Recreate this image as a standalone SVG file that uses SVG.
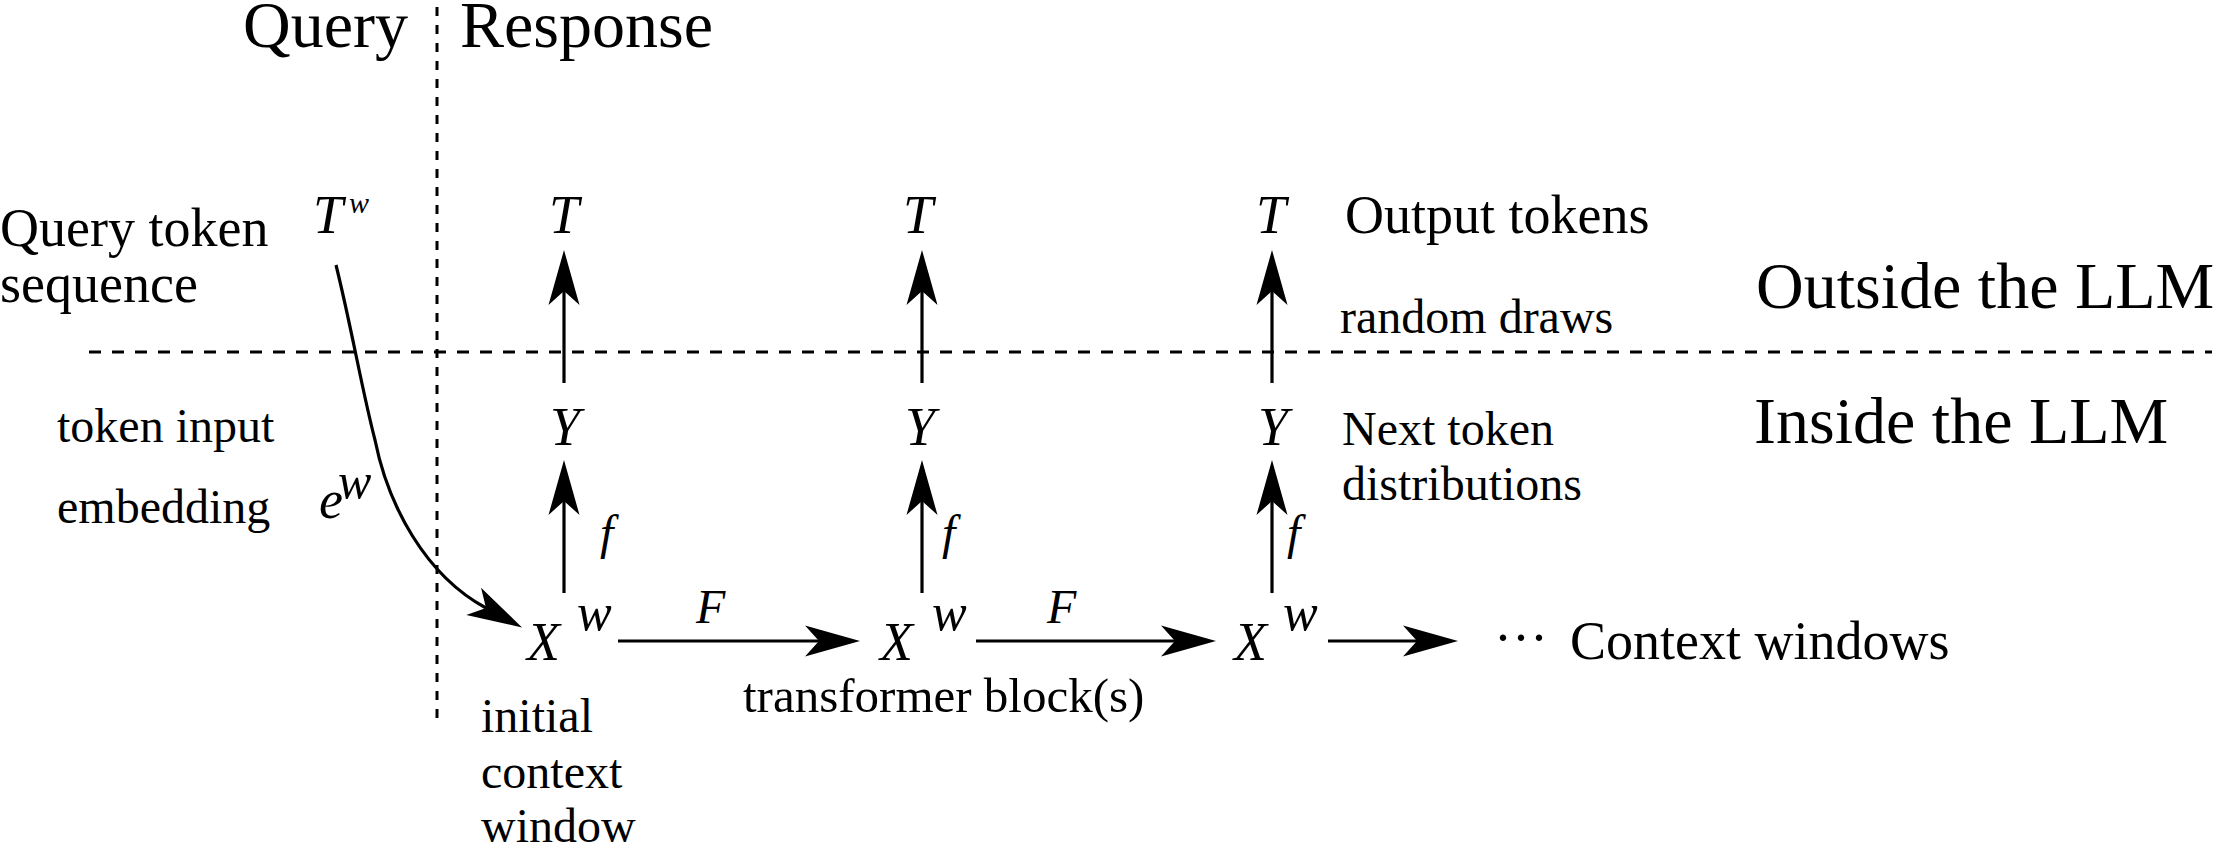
<svg xmlns="http://www.w3.org/2000/svg" width="2220" height="846" viewBox="0 0 2220 846">
<style>
text{font-family:"Liberation Serif","Times New Roman",serif;fill:#000}
.big{font-size:66px}
.huge{font-size:66px}
.lbl{font-size:54px}
.sm{font-size:48px}
.m{font-style:italic;font-size:54px}
.ms{font-style:italic;font-size:48px}
.con{stroke:#000;stroke-width:3.2;fill:none}
.dash{stroke:#000;stroke-width:3;fill:none}
</style>
<defs>
<marker id="ah" viewBox="-56 -17 58 34" refX="-41" refY="0" markerWidth="58" markerHeight="34" orient="auto" markerUnits="userSpaceOnUse">
<path d="M0,0 L-55,-15.5 L-41,0 L-55,15.5 Z" fill="#000"/>
</marker>
</defs>
<rect width="2220" height="846" fill="#fff"/>
<g id="dividers">
<line class="dash" x1="437" y1="7" x2="437" y2="727" stroke-dasharray="9 9"/>
<line class="dash" x1="89" y1="352" x2="2212" y2="352" stroke-dasharray="12 11"/>
</g>
<g id="headers">
<text class="big" x="243" y="47">Query</text>
<text class="big" x="460" y="47">Response</text>
<text class="huge" x="1756" y="308">Outside the LLM</text>
<text class="huge" x="1754" y="443">Inside the LLM</text>
</g>
<g id="left-labels">
<text class="lbl" x="0" y="246">Query token</text>
<text class="lbl" x="0" y="302">sequence</text>
<text class="sm" x="57" y="442">token input</text>
<text class="sm" x="57" y="523">embedding</text>
</g>
<g id="node-Tw"><text class="m" x="313" y="233">T</text><text style="font-style:italic;font-size:30px" x="349" y="213">w</text></g>
<g id="node-ew"><text class="m" x="319" y="518">e</text><text style="font-style:italic;font-size:50px" x="338" y="498">w</text></g>
<g id="node-T1"><text class="m" x="564" y="233" text-anchor="middle">T</text></g>
<g id="node-T2"><text class="m" x="918" y="233" text-anchor="middle">T</text></g>
<g id="node-T3"><text class="m" x="1271" y="233" text-anchor="middle">T</text></g>
<g id="node-Y1"><text class="m" x="565" y="445" text-anchor="middle">Y</text></g>
<g id="node-Y2"><text class="m" x="920" y="445" text-anchor="middle">Y</text></g>
<g id="node-Y3"><text class="m" x="1273" y="445" text-anchor="middle">Y</text></g>
<g id="node-X1"><text class="m" x="527" y="660">X</text><text style="font-style:italic;font-size:52px" x="577" y="630">w</text></g>
<g id="node-X2"><text class="m" x="880" y="660">X</text><text style="font-style:italic;font-size:52px" x="932" y="630">w</text></g>
<g id="node-X3"><text class="m" x="1234" y="660">X</text><text style="font-style:italic;font-size:52px" x="1283" y="630">w</text></g>
<g id="node-dots"><text class="lbl" x="1494" y="656">···</text></g>
<g id="right-labels">
<text class="lbl" x="1345" y="233">Output tokens</text>
<text class="sm" x="1340" y="333">random draws</text>
<text class="sm" x="1342" y="445">Next token</text>
<text class="sm" x="1342" y="500">distributions</text>
<text class="lbl" x="1570" y="659">Context windows</text>
</g>
<g id="bottom-labels">
<text class="sm" x="481" y="732">initial</text>
<text class="sm" x="481" y="788">context</text>
<text class="sm" x="481" y="842">window</text>
<text style="font-size:49px" x="743" y="712">transformer block(s)</text>
</g>
<g id="connectors">
<path class="con" d="M336,265 C352,330 362,390 375,440 C388,505 425,575 486,608" marker-end="url(#ah)"/>
<line class="con" x1="564" y1="383" x2="564" y2="291" marker-end="url(#ah)"/>
<line class="con" x1="922" y1="383" x2="922" y2="291" marker-end="url(#ah)"/>
<line class="con" x1="1272" y1="383" x2="1272" y2="291" marker-end="url(#ah)"/>
<line class="con" x1="564" y1="593" x2="564" y2="501" marker-end="url(#ah)"/>
<line class="con" x1="922" y1="593" x2="922" y2="501" marker-end="url(#ah)"/>
<line class="con" x1="1272" y1="593" x2="1272" y2="501" marker-end="url(#ah)"/>
<line class="con" x1="618" y1="641" x2="819" y2="641" marker-end="url(#ah)"/>
<line class="con" x1="976" y1="641" x2="1175" y2="641" marker-end="url(#ah)"/>
<line class="con" x1="1328" y1="641" x2="1417" y2="641" marker-end="url(#ah)"/>
</g>
<g id="connector-labels">
<text class="ms" x="600" y="549">f</text>
<text class="ms" x="942" y="549">f</text>
<text class="ms" x="1287" y="549">f</text>
<text class="ms" x="696" y="623">F</text>
<text class="ms" x="1047" y="623">F</text>
</g>
</svg>
